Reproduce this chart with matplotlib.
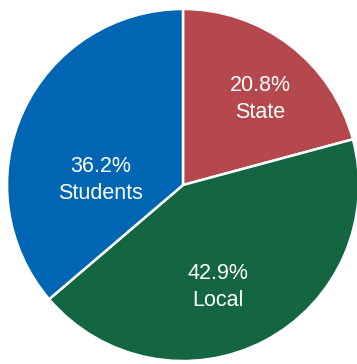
import matplotlib.pyplot as plt

# Revenue sources, clockwise from 12 o'clock
labels = ['State', 'Local', 'Students']
shares = [20.8, 42.9, 36.2]
colors = ['#B5484D', '#146642', '#0066B3']

# Hand-placed label anchors (data units, pie radius = 1)
label_xy = [(0.44, 0.49), (0.20, -0.58), (-0.47, 0.03)]


def draw_pie():
    fig = plt.figure(figsize=(3.57, 3.64), dpi=100)
    ax = fig.add_axes([0, 0, 1, 1])

    ax.pie(shares, colors=colors, startangle=90, counterclock=False,
           radius=1.0, wedgeprops=dict(edgecolor='white', linewidth=1.8))

    for name, val, (x, y) in zip(labels, shares, label_xy):
        ax.text(x, y, f'{val:.1f}%\n{name}', ha='center', va='center',
                color='white', fontsize=15.5, family='Liberation Sans',
                linespacing=1.35)

    ax.set_xlim(-1.04, 0.989)
    ax.set_ylim(-1.017, 1.051)
    ax.set_aspect('auto')
    ax.axis('off')
    fig.savefig('out.png', dpi=100, facecolor='white')
    plt.close(fig)


if __name__ == '__main__':
    draw_pie()
